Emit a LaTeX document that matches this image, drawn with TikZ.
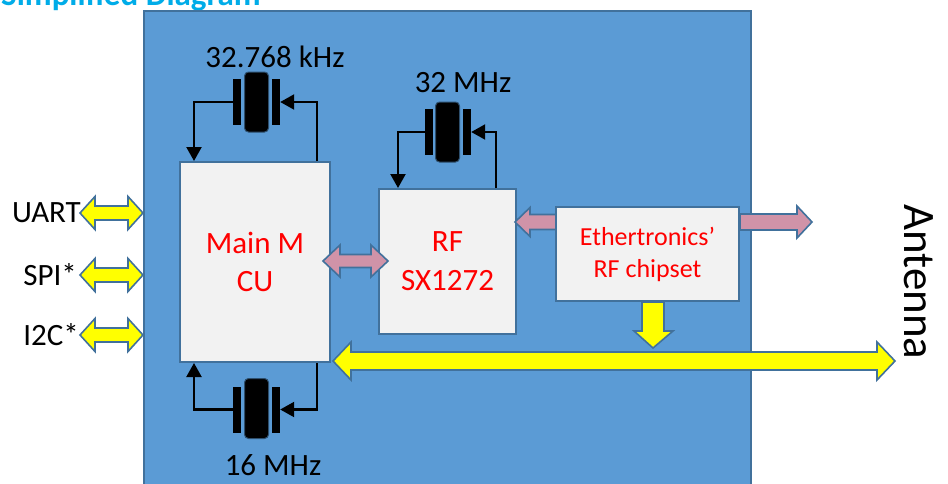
\documentclass[tikz,border=0pt]{standalone}
\usepackage{fontspec}
\setmainfont{Carlito}
\usetikzlibrary{arrows.meta,calc}
\definecolor{bgblue}{RGB}{91,155,213}
\definecolor{edgeblue}{RGB}{65,113,156}
\definecolor{boxfill}{RGB}{242,242,242}
\definecolor{pinkarr}{RGB}{208,147,168}
\definecolor{titlecyan}{RGB}{0,172,232}
\definecolor{yel}{RGB}{255,255,0}
% horizontal double block arrow: xl, xr, y, shaft half, head half, head length, style
\newcommand{\HDbl}[7]{%
  \filldraw[#7] (#1,#3) -- (#1+#6,#3-#5) -- (#1+#6,#3-#4) -- (#2-#6,#3-#4) -- (#2-#6,#3-#5) -- (#2,#3)
   -- (#2-#6,#3+#5) -- (#2-#6,#3+#4) -- (#1+#6,#3+#4) -- (#1+#6,#3+#5) -- cycle;}
% horizontal single block arrow: tail x, head-base x, tip x, y, shaft half, head half, style
\newcommand{\HOne}[7]{%
  \filldraw[#7] (#1,#4-#5) -- (#2,#4-#5) -- (#2,#4-#6) -- (#3,#4) -- (#2,#4+#6) -- (#2,#4+#5) -- (#1,#4+#5) -- cycle;}
\tikzset{
  bluebg/.style={draw=edgeblue,line width=2pt,fill=bgblue},
  chip/.style={draw=edgeblue,line width=2pt,fill=boxfill,text=red,align=center,inner sep=0pt},
  lbl/.style={inner sep=0pt,font=\fontsize{31}{37}\selectfont},
  yarrow/.style={fill=yel,draw=edgeblue,line width=1.6pt,line join=miter},
  parrow/.style={fill=pinkarr,draw=edgeblue,line width=1.6pt,line join=miter},
  xbody/.style={rectangle,rounded corners=4pt,fill=black,draw=edgeblue!70!black,line width=1pt,minimum width=24pt,minimum height=60pt,inner sep=0pt},
  xplate/.style={rectangle,fill=black,minimum width=8pt,minimum height=46pt,inner sep=0pt},
  wire/.style={line width=2.2pt,-{Triangle[length=14pt,width=15pt]}},
}
\begin{document}
\begin{tikzpicture}[x=1pt,y=-1pt]
\useasboundingbox (0,0) rectangle (948,483);
\clip (0,0) rectangle (948,483);
\fill[white] (0,0) rectangle (948,483);
% title (cut off at the top, as in the reference)
\node[anchor=base west,inner sep=0pt,text=titlecyan,font=\fontsize{33}{40}\selectfont\bfseries] (title) at (1,5) {Simplified Diagram};
% module background
\node[bluebg,rectangle,minimum width=607pt,minimum height=490pt,anchor=north west,inner sep=0pt] (bg) at (143,10) {};
% chips
\node[chip,minimum width=150pt,minimum height=200pt,font=\fontsize{31}{38}\selectfont] (mcu) at (255,262) {Main M\\CU};
\node[chip,minimum width=137pt,minimum height=145pt,font=\fontsize{31}{39}\selectfont] (rf) at (447.5,261.5) {RF\\SX1272};
\node[chip,minimum width=183pt,minimum height=94pt,font=\fontsize{26}{32}\selectfont] (eth) at (647.5,254) {Ethertronics’\\RF chipset};
% crystals
\node[xbody] (x1) at (256.5,102) {};
\node[xplate] (x1l) at (237,102) {};
\node[xplate] (x1r) at (276,102) {};
\node[lbl] (x1t) at (275,57) {32.768 kHz};
\node[xbody] (x2) at (447.5,132) {};
\node[xplate] (x2l) at (429,132) {};
\node[xplate] (x2r) at (467,132) {};
\node[lbl] (x2t) at (463,83) {32 MHz};
\node[xbody] (x3) at (256.5,408.5) {};
\node[xplate] (x3l) at (237,409.5) {};
\node[xplate] (x3r) at (276,409.5) {};
\node[lbl] (x3t) at (273,465) {16 MHz};
% crystal wires
\draw[wire] (x1l.west) -| ($(mcu.north west)+(15,0)$);
\draw[wire] ($(mcu.north east)+(-14,0)$) |- (x1r.east);
\draw[wire] (x2l.west) -| ($(rf.north west)+(20,0)$);
\draw[wire] ($(rf.north east)+(-21,0)$) |- (x2r.east);
\draw[wire] (x3l.west) -| ($(mcu.south west)+(15,0)$);
\draw[wire] ($(mcu.south east)+(-14,0)$) |- (x3r.east);
% interface labels
\node[lbl,anchor=east] (uart) at (81,213) {UART};
\node[lbl,anchor=east] (spi) at (77,275) {SPI*};
\node[lbl,anchor=east] (i2c) at (79,335) {I2C*};
\node[inner sep=0pt,rotate=-90,font=\fontsize{45}{54}\selectfont] (ant) at (919,282) {Antenna};
% block arrows
\HDbl{80}{143}{213}{7}{16.5}{15}{yarrow}
\HDbl{80}{143}{275}{7}{16.5}{15}{yarrow}
\HDbl{80}{143}{335}{7}{16.5}{15}{yarrow}
\HDbl{323}{388}{261}{6.5}{16}{17}{parrow}
\HOne{556}{530}{515}{222}{7.5}{14.5}{parrow}
\HOne{740}{797}{812}{222}{8}{16}{parrow}
\filldraw[yarrow] (642,302) -- (664,302) -- (664,331) -- (673,331) -- (653,348) -- (634,331) -- (642,331) -- cycle;
\HDbl{333}{895}{361}{9}{19}{18}{yarrow}
\end{tikzpicture}
\end{document}
